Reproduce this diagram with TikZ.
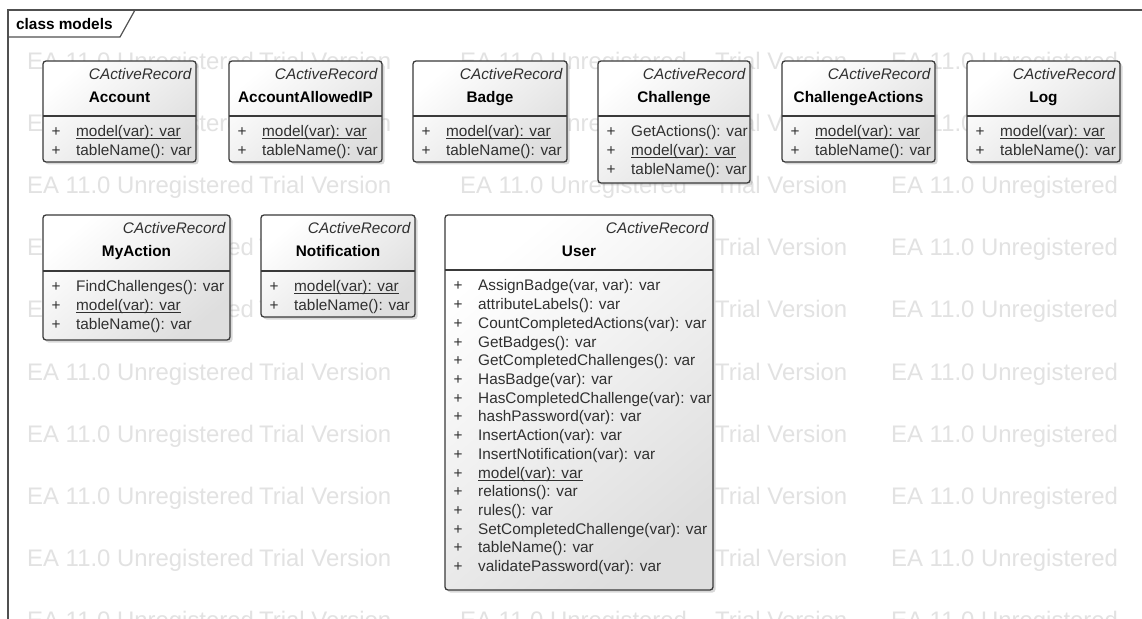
\documentclass[tikz,border=0pt]{standalone}
\usepackage{fontspec}
\setmainfont{Liberation Sans}
\usetikzlibrary{positioning,shadows}
\tikzset{>=stealth}

\definecolor{eaframe}{HTML}{505050}
\definecolor{eaborder}{HTML}{3A3A3A}
\definecolor{eatext}{HTML}{303030}
\definecolor{eawater}{HTML}{E2E2E2}

\newcommand{\eafont}{\fontsize{15.4}{18}\selectfont}
\newsavebox{\opbox}
% static operations are underlined close to the baseline
\newcommand{\statop}[1]{\sbox{\opbox}{#1}\rlap{\usebox{\opbox}}\rule[-2.4bp]{\wd\opbox}{0.9bp}}

\tikzset{
  classbox/.style={draw=eaborder, line width=1.3bp, rounded corners=3bp,
    top color=white, bottom color=black!13, shading angle=40,
    drop shadow={shadow xshift=2.5bp, shadow yshift=-2.5bp, opacity=.3}},
  classline/.style={draw=eaborder, line width=1.1bp},
  frameline/.style={draw=eaframe, line width=1.2bp},
  stereo/.style={font={\eafont\itshape}, anchor=base east, inner sep=0, text=eatext},
  cname/.style={font={\eafont\bfseries}, anchor=base, inner sep=0},
  plus/.style={anchor=base, inner sep=0, text=eatext},
  op/.style={anchor=base west, inner sep=0, text=eatext},
  watermark/.style={anchor=base west, inner sep=0, text=eawater,
    font=\fontsize{24}{24}\selectfont}
}

% #1 name, #2 left, #3 top, #4 right, #5 divider, #6 bottom, #7 class, #8 operations
\newcommand{\umlclass}[8]{%
  \path[classbox] (#2,#3) rectangle (#4,#6);
  \draw[classline] (#2,#5) -- (#4,#5);
  \node[stereo] (#1-st) at ({#4-4.5},{#3+18.5}) {CActiveRecord};
  \node[cname] (#1) at ({(#2+#4)/2},{#3+41.5}) {#7};
  \foreach \op [count=\i] in {#8} {
    \node[plus] (#1-p\i) at ({#2+13},{#5+21+(\i-1)*18.7}) {+};
    \node[op] (#1-\i) at ({#2+33},{#5+21+(\i-1)*18.7}) {\op};
  }
}

\begin{document}
\begin{tikzpicture}[x=1bp, y=-1bp, font=\eafont]
\useasboundingbox (0,0) rectangle (1142,619);
\fill[white] (0,0) rectangle (1142,619);

% background text of the trial version
\begin{scope}
\clip (9,38) rectangle (1142,619);
\foreach \r in {70,132,...,628} {
  \foreach \c in {27,460,891}
    \node[watermark] at (\c,\r) {EA 11.0 Unregistered};
  \foreach \c in {259,715}
    \node[watermark] at (\c,\r) {Trial Version};
}
\end{scope}

% diagram frame and its tab
\draw[frameline] (1150,10) -- (8,10) -- (8,630);
\draw[frameline] (135,10) -- (120,37) -- (8,37);
\node[font={\eafont\bfseries}, anchor=base west, inner sep=0] (title) at (16,29.5) {class models};

% first row
\umlclass{account}{43}{61}{196}{116}{162}{Account}
  {\statop{model(var): var}, tableName(): var}
\umlclass{allowedip}{229}{61}{382}{116}{162}{AccountAllowedIP}
  {\statop{model(var): var}, tableName(): var}
\umlclass{badge}{413}{61}{567}{116}{162}{Badge}
  {\statop{model(var): var}, tableName(): var}
\umlclass{challenge}{598}{61}{750}{116}{183}{Challenge}
  {GetActions(): var, \statop{model(var): var}, tableName(): var}
\umlclass{chactions}{782}{61}{935}{116}{162}{ChallengeActions}
  {\statop{model(var): var}, tableName(): var}
\umlclass{log}{967}{61}{1120}{116}{162}{Log}
  {\statop{model(var): var}, tableName(): var}

% second row
\umlclass{myaction}{43}{215}{230}{271}{340}{MyAction}
  {FindChallenges(): var, \statop{model(var): var}, tableName(): var}
\umlclass{notification}{261}{215}{415}{271}{317}{Notification}
  {\statop{model(var): var}, tableName(): var}
\umlclass{user}{445}{215}{713}{270}{590}{User}
  {{AssignBadge(var, var): var}, attributeLabels(): var,
   CountCompletedActions(var): var, GetBadges(): var,
   GetCompletedChallenges(): var, HasBadge(var): var,
   HasCompletedChallenge(var): var, hashPassword(var): var,
   InsertAction(var): var, InsertNotification(var): var,
   \statop{model(var): var}, relations(): var, rules(): var,
   SetCompletedChallenge(var): var, tableName(): var,
   validatePassword(var): var}
\end{tikzpicture}
\end{document}
